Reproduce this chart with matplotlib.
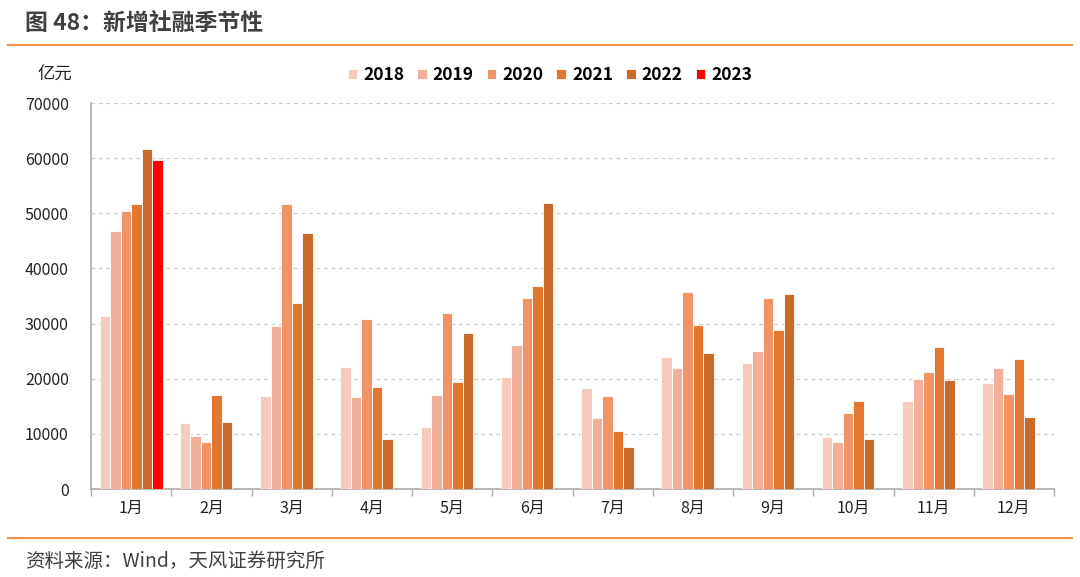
import numpy as np
import matplotlib
matplotlib.use("Agg")
import matplotlib.pyplot as plt
from matplotlib.lines import Line2D

plt.rcParams['font.family'] = ['Noto Sans CJK SC', 'DejaVu Sans']

months = ["1月", "2月", "3月", "4月", "5月", "6月", "7月", "8月", "9月", "10月", "11月", "12月"]
years = ["2018", "2019", "2020", "2021", "2022", "2023"]

# 新增社融（亿元），读图估算
v2018 = [31400, 11900, 16900, 22100, 11200, 20300, 18300, 24000, 22900, 9400, 16000, 19200]
v2019 = [46700, 9600, 29500, 16700, 17000, 26200, 12900, 21900, 25100, 8500, 19900, 21900]
v2020 = [50500, 8500, 51700, 30900, 31900, 34600, 16800, 35800, 34600, 13700, 21200, 17200]
v2021 = [51700, 17100, 33700, 18500, 19400, 36900, 10600, 29800, 28900, 16000, 25800, 23500]
v2022 = [61600, 12100, 46500, 9100, 28300, 51900, 7600, 24600, 35400, 9000, 19700, 13000]
v2023 = [59700] + [np.nan] * 11

series = [v2018, v2019, v2020, v2021, v2022, v2023]
colors = ["#F6CBBE", "#F2B09A", "#F09467", "#E27830", "#C96A2A", "#FF0000"]

fig = plt.figure(figsize=(10.8, 5.77), dpi=100)
ax = fig.add_axes([91/1080, 88/577, 963/1080, 386/577])

x = np.arange(len(months))
w = 0.131
for i, (vals, c) in enumerate(zip(series, colors)):
    ax.bar(x + (i - 2.5) * w, vals, width=w, color=c, edgecolor="white", linewidth=0.6,
           label=years[i], zorder=3)

ax.set_xlim(-0.5, len(months) - 0.5)
ax.set_ylim(0, 70000)
ax.set_yticks(np.arange(0, 70001, 10000))
ax.set_yticklabels([str(v) for v in range(0, 70001, 10000)], fontsize=11.5, color="#222222")
ax.yaxis.grid(True, linestyle=(0, (3, 3)), color="#CCCCCC", linewidth=0.9, zorder=0)
ax.tick_params(axis="y", length=0, pad=16)

ax.set_xticks(x)
ax.set_xticklabels(months, fontsize=11.5, color="#222222")
ax.set_xticks(np.arange(-0.5, len(months)), minor=True)
ax.tick_params(axis="x", which="major", length=0, pad=8)
ax.tick_params(axis="x", which="minor", length=5, color="#AAAAAA", width=1)

for s in ["top", "right"]:
    ax.spines[s].set_visible(False)
ax.spines["left"].set_color("#AAAAAA")
ax.spines["bottom"].set_color("#AAAAAA")
ax.spines["left"].set_linewidth(1.2)
ax.spines["bottom"].set_linewidth(1.2)

leg = ax.legend(loc="center", bbox_to_anchor=(0.4766, 1 + 28/386), ncol=6, frameon=False,
                handlelength=0.55, handleheight=0.55, handletextpad=0.35, columnspacing=0.75,
                prop={"size": 12.5, "weight": "bold"})

fig.text(38/1080, 1 - 75/577, "亿元", fontsize=12.5, color="#222222", va="center")

fig.text(25/1080, 1 - 24/577, "图 48：新增社融季节性", fontsize=16.5, fontweight="bold",
         color="#404040", va="center")
fig.add_artist(Line2D([8/1080, 1072/1080], [1 - 45/577, 1 - 45/577], color="#F0934A", linewidth=1.5))
fig.add_artist(Line2D([8/1080, 1072/1080], [1 - 538/577, 1 - 538/577], color="#F0934A", linewidth=1.5))
fig.text(25/1080, 1 - 561/577, "资料来源：Wind，天风证券研究所", fontsize=14, color="#404040", va="center")

fig.savefig("out.png", dpi=100)
